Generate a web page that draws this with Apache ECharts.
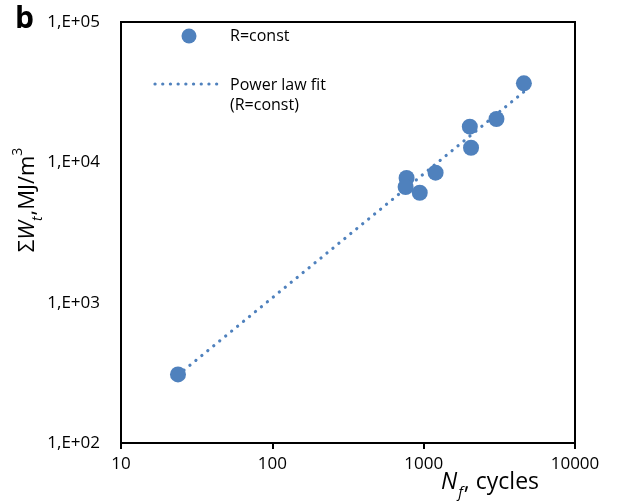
<!DOCTYPE html>
<html>
<head>
<meta charset="utf-8">
<script src="https://cdn.jsdelivr.net/npm/echarts@6/dist/echarts.min.js"></script>
<style>
  html, body { margin: 0; padding: 0; background: #fff; }
  #chart { width: 619px; height: 501px; }
</style>
</head>
<body>
<div id="chart"></div>
<script>
// Cycles to failure and accumulated energy density (R = const)
const cyclesToFailure = [23.8, 771, 760, 942, 1199, 2018, 2056, 3027, 4595];
const energyDensity = [308, 7730, 6670, 6070, 8440, 17950, 12700, 20360, 36560];

// Power-law trendline end points
const fitCycles = [23.8, 4595];
const fitEnergy = [305, 31800];

// Axis tick values
const xTicks = [10, 100, 1000, 10000];
const yTicks = [100, 1000, 10000, 100000];

const blue = '#4F81BD';
const font = '"Open Sans", "Noto Sans", sans-serif';

const points = cyclesToFailure.map((c, i) => [c, energyDensity[i]]);
const fitLine = fitCycles.map((c, i) => [c, fitEnergy[i]]);

const chart = echarts.init(document.getElementById('chart'), null, { renderer: 'canvas' });

chart.setOption({
  animation: false,
  backgroundColor: '#fff',
  grid: {
    left: 121, right: 44, top: 22, bottom: 58,
    show: true, borderColor: '#000', borderWidth: 2
  },
  xAxis: {
    type: 'log', logBase: 10,
    min: xTicks[0], max: xTicks[xTicks.length - 1],
    axisLine: { show: true, lineStyle: { color: '#000', width: 2 } },
    axisTick: { show: true, length: 6, lineStyle: { color: '#000', width: 2 } },
    minorTick: { show: false },
    splitLine: { show: false },
    axisLabel: {
      color: '#000', fontFamily: font, fontSize: 17, margin: 13,
      formatter: v => String(Math.round(v))
    }
  },
  yAxis: {
    type: 'log', logBase: 10,
    min: yTicks[0], max: yTicks[yTicks.length - 1],
    axisLine: { show: true, lineStyle: { color: '#000', width: 2 } },
    axisTick: { show: false },
    minorTick: { show: false },
    splitLine: { show: false },
    axisLabel: {
      color: '#000', fontFamily: font, fontSize: 17, margin: 21,
      formatter: v => '1,E+0' + Math.round(Math.log10(v))
    }
  },
  series: [
    {
      name: 'Power law fit (R=const)',
      type: 'line',
      data: fitLine,
      showSymbol: false,
      z: 2,
      lineStyle: { color: blue, width: 3.2, type: [0.1, 7.6], cap: 'round' }
    },
    {
      name: 'R=const',
      type: 'scatter',
      data: points,
      symbol: 'circle',
      symbolSize: 16,
      z: 3,
      itemStyle: { color: blue, opacity: 1 }
    }
  ],
  graphic: [
    // panel letter
    { type: 'text', left: 15, top: 4, style: { text: 'b', font: 'bold 30px ' + font, fill: '#000' } },
    // legend: markers
    { type: 'circle', shape: { cx: 189, cy: 36, r: 7.5 }, style: { fill: blue } },
    { type: 'line', shape: { x1: 155, y1: 84, x2: 221, y2: 84 },
      style: { stroke: blue, lineWidth: 3.2, lineDash: [0.1, 7.6], lineCap: 'round' } },
    // legend: labels
    { type: 'text', x: 230, y: 36, style: { text: 'R=const', font: '16px ' + font, fill: '#000', verticalAlign: 'middle' } },
    { type: 'text', x: 230, y: 85, style: { text: 'Power law fit', font: '16px ' + font, fill: '#000', verticalAlign: 'middle' } },
    { type: 'text', x: 230, y: 105, style: { text: '(R=const)', font: '16px ' + font, fill: '#000', verticalAlign: 'middle' } },
    // x-axis title
    {
      type: 'text', x: 441, y: 482,
      style: {
        text: '{n|N}{s|f}{t|, cycles}',
        verticalAlign: 'middle',
        fill: '#000',
        rich: {
          n: { fontFamily: font, fontStyle: 'italic', fontSize: 23, lineHeight: 36, verticalAlign: 'middle' },
          s: { fontFamily: font, fontStyle: 'italic', fontSize: 15, lineHeight: 36, verticalAlign: 'bottom', padding: [0, 1, 0, 1] },
          t: { fontFamily: font, fontSize: 23, lineHeight: 36, verticalAlign: 'middle' }
        }
      }
    },
    // y-axis title
    {
      type: 'text', x: 28, y: 200, rotation: Math.PI / 2,
      style: {
        text: '{s|Σ}{w|W}{b|t}{r|,MJ/m}{p|3}',
        align: 'center',
        verticalAlign: 'middle',
        fill: '#000',
        rich: {
          s: { fontFamily: font, fontSize: 22, lineHeight: 34, verticalAlign: 'middle' },
          w: { fontFamily: font, fontStyle: 'italic', fontSize: 22, lineHeight: 34, verticalAlign: 'middle' },
          b: { fontFamily: font, fontStyle: 'italic', fontSize: 14, lineHeight: 34, verticalAlign: 'bottom', padding: [0, 1, 0, 0] },
          r: { fontFamily: font, fontSize: 22, lineHeight: 34, verticalAlign: 'middle' },
          p: { fontFamily: font, fontSize: 14, lineHeight: 34, verticalAlign: 'top' }
        }
      }
    }
  ]
});
</script>
</body>
</html>
